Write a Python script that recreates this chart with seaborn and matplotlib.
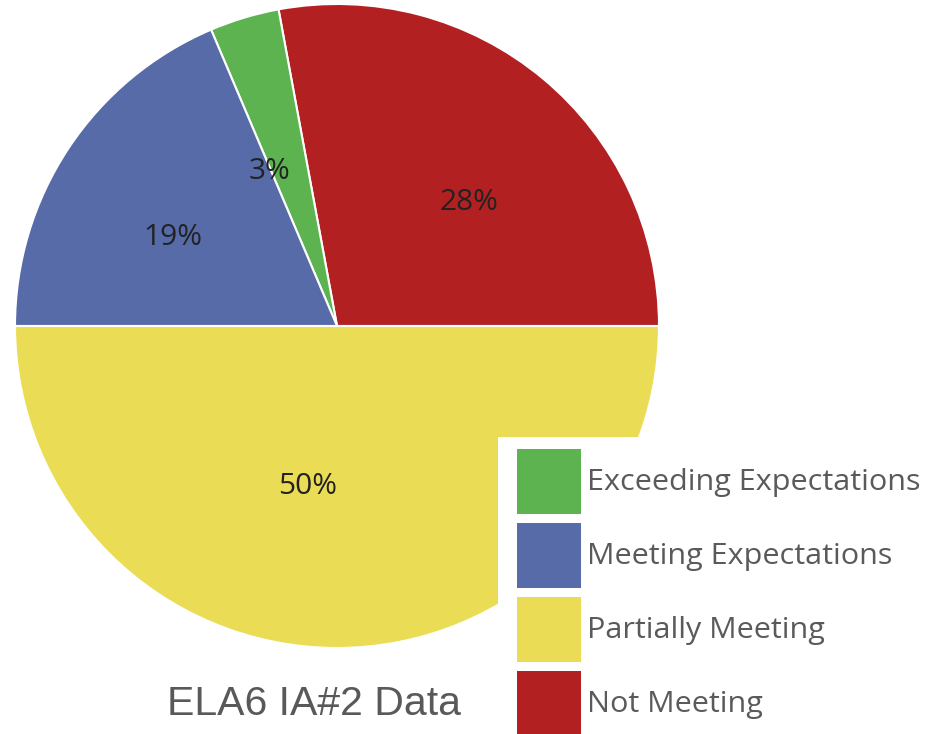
import matplotlib
matplotlib.use("Agg")
import matplotlib.pyplot as plt
from matplotlib.patches import Patch, Rectangle
import seaborn as sns

sns.set_theme(style="white")
plt.rcParams['font.family'] = ['Open Sans', 'DejaVu Sans']

# Data (student counts)
categories = ["Exceeding Expectations", "Meeting Expectations", "Partially Meeting", "Not Meeting"]
counts = [3, 16, 43, 24]
colors = ["#5db350", "#566ba8", "#eadc54", "#b22022"]
title = "ELA6 IA#2 Data"

# pie drawing order (counter-clockwise from 3 o'clock): Not Meeting, Exceeding, Meeting, Partially
order = [3, 0, 1, 2]
pie_vals = [counts[i] for i in order]
pie_cols = [colors[i] for i in order]

W, H = 934, 734
fig = plt.figure(figsize=(W / 100, H / 100), dpi=100)
fig.patch.set_facecolor("white")

cx, cy, r = 337, 326, 322
ax = fig.add_axes([(cx - r) / W, (H - cy - r) / H, 2 * r / W, 2 * r / H])
wedges, texts, autotexts = ax.pie(
    pie_vals, colors=pie_cols, startangle=0, counterclock=True, radius=1,
    autopct="%.0f%%", pctdistance=0.5,
    wedgeprops=dict(edgecolor="white", linewidth=1.5),
    textprops=dict(fontsize=21.5, color="#222222"))
# anchor labels like the original: text starts at the anchor on the right half,
# ends at it on the left half (and at the bottom/top)
for t in autotexts:
    x, _ = t.get_position()
    t.set_ha("left" if x > 1e-3 else "right")
ax.set_xlim(-1, 1)
ax.set_ylim(-1, 1)
ax.set_aspect("equal")
ax.axis("off")

# legend background panel
fig.patches.append(Rectangle((498 / W, 0), 1 - 498 / W, (H - 437) / H,
                             transform=fig.transFigure, facecolor="white",
                             edgecolor="none", zorder=4))

fs_px = 30.5
fs_pt = fs_px * 72 / 100
sq = 65.0
hh = (sq / fs_px - 0.245) / 0.65
pitch = 74.0
handles = [Patch(facecolor=c, edgecolor="none") for c in colors]
leg = fig.legend(handles, categories, loc="upper left",
                 bbox_to_anchor=(517 / W, 1 - 449 / H),
                 bbox_transform=fig.transFigure,
                 borderaxespad=0, borderpad=0,
                 handlelength=64 / fs_px, handleheight=hh,
                 handletextpad=0.2, labelspacing=(pitch - sq) / fs_px,
                 fontsize=fs_pt, frameon=False)
for t in leg.get_texts():
    t.set_color("#5a5a5a")

fig.text(314 / W, 1 - 715 / H, title, ha="center", va="baseline",
         fontsize=29.5, family="Liberation Sans", color="#595959")

fig.savefig("out.png", dpi=100, facecolor="white")
